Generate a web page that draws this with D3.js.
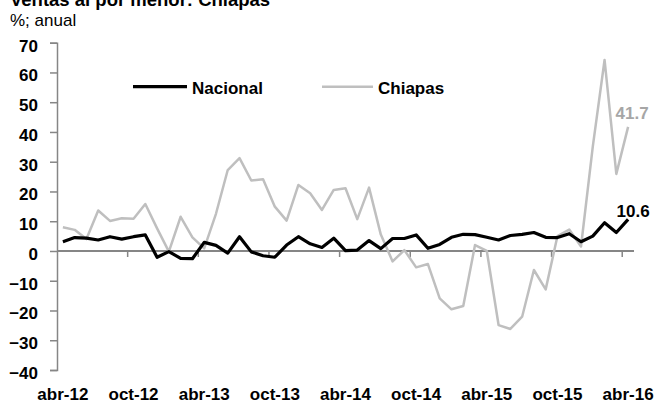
<!DOCTYPE html>
<html>
<head>
<meta charset="utf-8">
<script src="https://cdn.jsdelivr.net/npm/d3@7/dist/d3.min.js"></script>
<style>
  html, body { margin: 0; padding: 0; background: #fff; }
  svg { display: block; font-family: "Liberation Sans", Arial, sans-serif; }
</style>
</head>
<body>
<svg id="chart" width="658" height="409"></svg>
<script>
// ---- Data ----
const months = [
  "abr-12","may-12","jun-12","jul-12","ago-12","sep-12","oct-12","nov-12","dic-12",
  "ene-13","feb-13","mar-13","abr-13","may-13","jun-13","jul-13","ago-13","sep-13",
  "oct-13","nov-13","dic-13","ene-14","feb-14","mar-14","abr-14","may-14","jun-14",
  "jul-14","ago-14","sep-14","oct-14","nov-14","dic-14","ene-15","feb-15","mar-15",
  "abr-15","may-15","jun-15","jul-15","ago-15","sep-15","oct-15","nov-15","dic-15",
  "ene-16","feb-16","mar-16","abr-16"
];
const nacional = [
  3.1, 4.5, 4.3, 3.7, 4.8, 4.0, 4.8, 5.4, -2.1,
  -0.2, -2.5, -2.6, 2.9, 1.9, -0.7, 4.8, -0.3, -1.6,
  -2.1, 2.0, 4.8, 2.4, 1.2, 4.3, 0.1, 0.3, 3.5,
  0.8, 4.2, 4.2, 5.4, 0.9, 2.2, 4.6, 5.6, 5.5,
  4.6, 3.7, 5.2, 5.6, 6.2, 4.6, 4.5, 5.8, 3.1,
  5.0, 9.5, 6.2, 10.6
];
const chiapas = [
  8.0, 7.1, 4.0, 13.6, 10.1, 11.0, 10.8, 15.8, 7.6,
  -0.2, 11.5, 4.6, 0.9, 12.5, 27.2, 31.2, 23.7, 24.1,
  14.9, 10.2, 22.2, 19.4, 13.8, 20.5, 21.1, 10.7, 21.3,
  5.5, -3.5, 0.3, -5.5, -4.4, -15.9, -19.6, -18.5, 2.0,
  0.0, -24.9, -26.2, -22.1, -6.4, -12.9, 5.0, 7.2, 1.5,
  35.1, 64.2, 25.9, 41.7
];
const yTicks = [-40, -30, -20, -10, 0, 10, 20, 30, 40, 50, 60, 70];
const xLabels = ["abr-12","oct-12","abr-13","oct-13","abr-14","oct-14","abr-15","oct-15","abr-16"];
const seriesNames = ["Nacional", "Chiapas"];
const title = "Ventas al por menor: Chiapas";
const unitLabel = "%; anual";

// ---- Layout ----
const svg = d3.select("#chart");
const plotLeft = 57, plotRight = 634, plotTop = 42.7, plotBottom = 370;
const axisGray = "#868686";
const black = "#000000";
const gray = "#bfbfbf";
const labelGray = "#a6a6a6";

const x = d3.scaleBand().domain(months).range([plotLeft, plotRight]).padding(0);
const cx = m => x(m) + x.bandwidth() / 2;
const y = d3.scaleLinear().domain([-40, 70]).range([plotBottom, plotTop]);

// Title (cut at top) and unit
svg.append("text").attr("x", 10).attr("y", 6)
  .attr("font-size", 18.5).attr("font-weight", "bold").text(title);
svg.append("text").attr("x", 10).attr("y", 26)
  .attr("font-size", 17).text(unitLabel);

// Y axis
const yAxis = d3.axisLeft(y).tickValues(yTicks).tickSize(7).tickPadding(12)
  .tickFormat(d3.format("d"));
const gy = svg.append("g").attr("transform", `translate(${plotLeft},0)`).call(yAxis);
gy.select(".domain").attr("stroke", axisGray).attr("stroke-width", 1.5);
gy.selectAll(".tick line").attr("stroke", axisGray).attr("stroke-width", 1.5);
gy.selectAll(".tick text")
  .attr("font-family", "Liberation Sans, Arial, sans-serif")
  .attr("font-size", 17).attr("font-weight", "bold").attr("fill", "#000")
  .attr("dy", null).attr("y", 8.5);

// X axis (zero line with ticks at category boundaries every 6 months)
const tickMonths = months.filter((m, i) => i % 6 === 0 && i > 0);
const xAxis = d3.axisBottom(x).tickValues(tickMonths).tickSize(6).tickFormat("");
const gx = svg.append("g").attr("transform", `translate(0,${y(0)})`).call(xAxis);
gx.select(".domain").remove();
gx.selectAll(".tick").attr("transform", d => `translate(${x(d)},0)`);
gx.selectAll(".tick line").attr("stroke", axisGray).attr("stroke-width", 1.5);
svg.append("line")
  .attr("x1", plotLeft).attr("x2", plotRight).attr("y1", y(0)).attr("y2", y(0))
  .attr("stroke", axisGray).attr("stroke-width", 2);

// X labels
svg.append("g").selectAll("text").data(xLabels).join("text")
  .attr("x", d => cx(d)).attr("y", 400)
  .attr("text-anchor", "middle").attr("font-size", 17).attr("font-weight", "bold")
  .text(d => d);

// Lines
const line = d3.line().x((d, i) => cx(months[i])).y(d => y(d));
svg.append("path").datum(chiapas).attr("d", line)
  .attr("fill", "none").attr("stroke", gray).attr("stroke-width", 2.5)
  .attr("stroke-linejoin", "round");
svg.append("path").datum(nacional).attr("d", line)
  .attr("fill", "none").attr("stroke", black).attr("stroke-width", 3.2)
  .attr("stroke-linejoin", "round");

// End labels
const last = months.length - 1;
svg.append("text").attr("x", cx(months[last]) + 4).attr("y", y(chiapas[last]) - 8)
  .attr("text-anchor", "middle").attr("font-size", 17).attr("font-weight", "bold")
  .attr("fill", labelGray).text(d3.format(".1f")(chiapas[last]));
svg.append("text").attr("x", cx(months[last]) + 5).attr("y", y(nacional[last]) - 2.5)
  .attr("text-anchor", "middle").attr("font-size", 17).attr("font-weight", "bold")
  .attr("fill", black).text(d3.format(".1f")(nacional[last]));

// Legend
const legend = [
  { name: seriesNames[0], color: black, w: 3.2, x1: 133, x2: 187, tx: 192 },
  { name: seriesNames[1], color: gray, w: 2.5, x1: 322, x2: 373, tx: 378 }
];
const lg = svg.append("g");
legend.forEach(l => {
  lg.append("line").attr("x1", l.x1).attr("x2", l.x2).attr("y1", 86.7).attr("y2", 86.7)
    .attr("stroke", l.color).attr("stroke-width", l.w);
  lg.append("text").attr("x", l.tx).attr("y", 94)
    .attr("font-size", 17).attr("font-weight", "bold").text(l.name);
});
</script>
</body>
</html>
